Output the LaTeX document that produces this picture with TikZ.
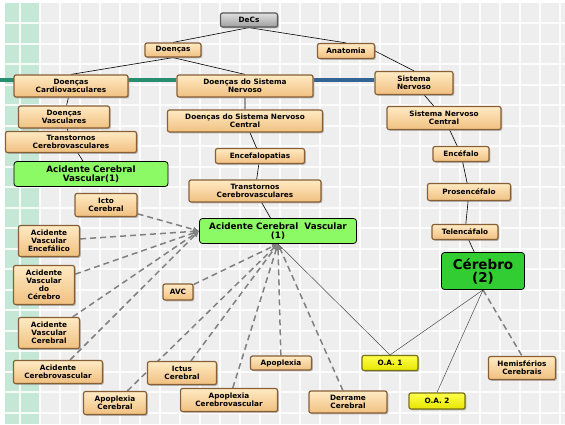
\documentclass[tikz,border=0pt]{standalone}
\usepackage{fontspec}
\setmainfont{DejaVu Sans}
\usetikzlibrary{arrows.meta,shadows}

\definecolor{fundo}{RGB}{238,238,238}
\definecolor{faixa}{RGB}{196,232,213}
\definecolor{bege1}{RGB}{255,234,195}
\definecolor{bege2}{RGB}{240,192,128}
\definecolor{borda}{RGB}{135,95,55}
\definecolor{verde1}{RGB}{140,250,100}
\definecolor{verde2}{RGB}{50,205,50}
\definecolor{amarelo}{RGB}{255,255,0}
\definecolor{barraverde}{RGB}{40,140,110}
\definecolor{barraazul}{RGB}{50,100,150}

\pgfdeclarelayer{grade}
\pgfdeclarelayer{linhas}
\pgfsetlayers{grade,linhas,main}

\begin{document}
\begin{tikzpicture}[x=1pt,y=-1pt,
  tam/.style 2 args={minimum width=#1,minimum height=#2},
  termo/.style={draw=borda,line width=1.2pt,rounded corners=2pt,
    top color=bege1,bottom color=bege2,inner sep=1pt,align=center,
    drop shadow={shadow xshift=1.3pt,shadow yshift=-1.3pt,opacity=.5},
    font=\fontsize{7.3}{7.9}\selectfont\bfseries},
  raiz/.style={termo,draw=black!65,top color=black!12,bottom color=black!38},
  descritor/.style={draw=black,line width=.8pt,rounded corners=3pt,fill=verde1,
    inner sep=1pt,align=center,font=\fontsize{8.8}{9}\selectfont\bfseries},
  objeto/.style={termo,draw=olive!80!black,top color=yellow!70,bottom color=amarelo!90!black},
  arvore/.style={black,line width=.6pt},
  sinonimo/.style={black!50,line width=1.5pt,dash pattern=on 6pt off 4pt,
    -{Latex[length=6pt,width=6pt]}},
  ligacao/.style={black!70,line width=.5pt}]

\useasboundingbox (0,0) rectangle (565,424);

% fundo quadriculado
\begin{pgfonlayer}{grade}
\fill[fundo] (5,3) rectangle (565,424);
\fill[faixa] (5,3) rectangle (40,424);
\foreach \x in {20,40,...,560}
  \draw[white,line width=2pt,opacity=.85] (\x,3) -- (\x,424);
\foreach \k in {0,...,19}
  \draw[white,line width=2pt,opacity=.85] (5,23+20.5*\k) -- (565,23+20.5*\k);
\end{pgfonlayer}

% arvore DeCs
\node[raiz,tam={57}{14}] (decs) at (249,20) {DeCs};
\node[termo,tam={56}{14}] (doencas) at (173,50) {Doenças};
\node[termo,tam={57}{15}] (anatomia) at (346,51) {Anatomia};
\node[termo,tam={114}{22}] (dcv) at (71,86) {Doenças\\Cardiovasculares};
\node[termo,tam={136}{22}] (dsn) at (245,86) {Doenças do Sistema\\Nervoso};
\node[termo,tam={78}{23}] (sn) at (414,83) {Sistema\\Nervoso};
\node[termo,tam={91}{22}] (dv) at (64,117) {Doenças\\Vasculares};
\node[termo,tam={155}{22}] (dsnc) at (245,121) {Doenças do Sistema Nervoso\\Central};
\node[termo,tam={114}{23}] (snc) at (444,118) {Sistema Nervoso\\Central};
\node[termo,tam={131}{21}] (tcesq) at (71,142) {Transtornos\\Cerebrovasculares};
\node[termo,tam={89}{15}] (encefalopatias) at (260,156) {Encefalopatias};
\node[termo,tam={56}{15}] (encefalo) at (461,154) {Encéfalo};
\node[descritor,tam={154}{25}] (acvesq) at (91,174) {Acidente Cerebral\\Vascular(1)};
\node[termo,tam={132}{22}] (tcmeio) at (255,191) {Transtornos\\Cerebrovasculares};
\node[termo,tam={83}{17}] (prosencefalo) at (469,192) {Prosencéfalo};
\node[descritor,tam={157}{25}] (acv) at (278,231) {Acidente Cerebral\ \ Vascular\\(1)};
\node[termo,tam={66}{15}] (telencafalo) at (465,232) {Telencáfalo};
\node[descritor,fill=verde2,tam={83}{37},font=\fontsize{13.5}{13}\selectfont\bfseries] (cerebro) at (483,271) {Cérebro\\(2)};

% sinonimos
\node[termo,tam={62}{23}] (icto) at (106,205) {Icto\\Cerebral};
\node[termo,tam={61}{31}] (ave) at (49,241) {Acidente\\Vascular\\Encefálico};
\node[termo,tam={61}{39}] (avdc) at (44,285) {Acidente\\Vascular\\do\\Cérebro};
\node[termo,tam={30}{16}] (avc) at (178,292) {AVC};
\node[termo,tam={61}{31}] (avcer) at (49,333) {Acidente\\Vascular\\Cerebral};
\node[termo,tam={89}{23}] (acvasc) at (58,372) {Acidente\\Cerebrovascular};
\node[termo,tam={69}{23}] (ictus) at (182,373) {Ictus\\Cerebral};
\node[termo,tam={61}{14}] (apoplexia) at (281,363) {Apoplexia};
\node[termo,tam={63}{23}] (apoc) at (115,403) {Apoplexia\\Cerebral};
\node[termo,tam={97}{23}] (apocv) at (229,400) {Apoplexia\\Cerebrovascular};
\node[termo,tam={78}{22}] (derrame) at (348,402) {Derrame\\Cerebral};
\node[objeto,tam={56}{15}] (oa1) at (390,363) {O.A. 1};
\node[objeto,tam={56}{16}] (oa2) at (437,401) {O.A. 2};
\node[termo,tam={67}{23}] (hemisferios) at (522,368) {Hemisférios\\Cerebrais};

\begin{pgfonlayer}{grade}
\coordinate (barra) at (0,80);
\draw[barraverde,line width=4pt] (barra) -- (barra -| dsn.west);
\draw[barraazul,line width=4pt] (barra -| dsn.east) -- (barra -| sn.west);
\end{pgfonlayer}

\begin{pgfonlayer}{linhas}
\draw[arvore] (doencas.north) -- (decs.south) -- (anatomia.north);
\draw[arvore] (dcv.north) -- (doencas.south) -- (dsn.north);
\draw[arvore] (dcv) -- (dv) -- (tcesq) -- (acvesq);
\draw[arvore] (dsn) -- (dsnc) -- (encefalopatias) -- (tcmeio) -- (acv);
\draw[arvore] (anatomia.east) -- (sn.north);
\draw[arvore] (sn) -- (snc) -- (encefalo) -- (prosencefalo) -- (telencafalo) -- (cerebro);

\foreach \s in {icto,ave,avdc,avcer,acvasc}
  \draw[sinonimo] (\s) -- (acv.west);
\foreach \s in {avc,apoc,ictus,apocv,apoplexia,derrame}
  \draw[sinonimo] (\s) -- (acv.south);
\draw[sinonimo,-] (cerebro.south) -- (hemisferios.north);

\draw[ligacao] (acv.south) -- (oa1.north) -- (cerebro.south) -- (oa2.north);
\end{pgfonlayer}
\end{tikzpicture}
\end{document}
